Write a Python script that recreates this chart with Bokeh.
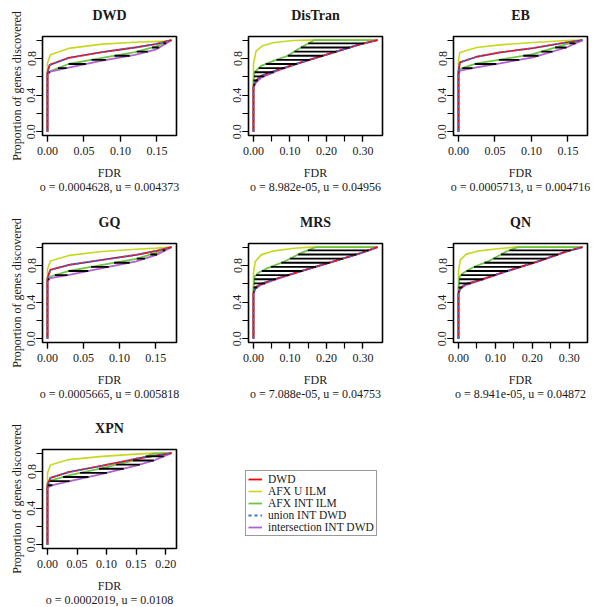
import numpy as np
from bokeh.plotting import figure
from bokeh.models import (Range1d, FixedTicker, Title, Legend, LegendItem,
                          PrintfTickFormatter)
from bokeh.layouts import column, row
from bokeh.embed import file_html
from bokeh.resources import INLINE

FONT = "Liberation Serif"

# ---------------- data (FDR, proportion of genes discovered) ----------------
panel_notes = {
    "DWD": "o = 0.0004628, u = 0.004373",
    "DisTran": "o = 8.982e-05, u = 0.04956",
    "EB": "o = 0.0005713, u = 0.004716",
    "GQ": "o = 0.0005665, u = 0.005818",
    "MRS": "o = 7.088e-05, u = 0.04753",
    "QN": "o = 8.941e-05, u = 0.04872",
    "XPN": "o = 0.0002019, u = 0.0108",
}
panel_xmax = {"DWD": 0.17, "DisTran": 0.34, "EB": 0.17, "GQ": 0.172,
              "MRS": 0.34, "QN": 0.336, "XPN": 0.21}

dwd_curves = {
    "afx_u":   ([0, 0, 0.004, 0.029, 0.075, 0.12, 0.16, 0.17],
                [0, 0.75, 0.84, 0.91, 0.957, 0.978, 0.99, 1.0]),
    "dwd":     ([0, 0, 0.003, 0.029, 0.075, 0.12, 0.148, 0.17],
                [0, 0.65, 0.73, 0.806, 0.87, 0.92, 0.957, 1.0]),
    "afx_int": ([0, 0, 0.004, 0.029, 0.075, 0.12, 0.148, 0.17],
                [0, 0.64, 0.663, 0.74, 0.806, 0.87, 0.93, 1.0]),
    "inter":   ([0, 0, 0.004, 0.029, 0.075, 0.12, 0.148, 0.17],
                [0, 0.63, 0.656, 0.70, 0.778, 0.84, 0.896, 1.0]),
}
distran_curves = {
    "afx_u":   ([0, 0, 0.007, 0.025, 0.057, 0.11, 0.157, 0.34],
                [0, 0.74, 0.88, 0.94, 0.975, 0.996, 1.0, 1.0]),
    "afx_int": ([0, 0, 0.003, 0.021, 0.057, 0.094, 0.13, 0.166, 0.34],
                [0, 0.56, 0.65, 0.72, 0.776, 0.83, 0.92, 1.0, 1.0]),
    "dwd":     ([0, 0, 0.007, 0.021, 0.066, 0.13, 0.22, 0.294, 0.34],
                [0, 0.5, 0.56, 0.61, 0.675, 0.758, 0.866, 0.957, 1.0]),
    "inter":   ([0, 0, 0.007, 0.021, 0.066, 0.13, 0.22, 0.294, 0.34],
                [0, 0.48, 0.54, 0.59, 0.668, 0.755, 0.866, 0.957, 1.0]),
}
eb_curves = {
    "afx_u":   ([0, 0, 0.002, 0.025, 0.057, 0.102, 0.148, 0.17],
                [0, 0.78, 0.866, 0.92, 0.949, 0.975, 0.996, 1.0]),
    "dwd":     ([0, 0, 0.002, 0.025, 0.057, 0.102, 0.148, 0.17],
                [0, 0.66, 0.758, 0.819, 0.866, 0.913, 0.975, 1.0]),
    "afx_int": ([0, 0, 0.002, 0.025, 0.057, 0.102, 0.148, 0.17],
                [0, 0.64, 0.686, 0.747, 0.787, 0.848, 0.957, 1.0]),
    "inter":   ([0, 0, 0.002, 0.025, 0.057, 0.102, 0.148, 0.17],
                [0, 0.63, 0.668, 0.704, 0.747, 0.812, 0.92, 1.0]),
}
gq_curves = {
    "afx_u":   ([0, 0, 0.004, 0.03, 0.076, 0.123, 0.151, 0.172],
                [0, 0.76, 0.85, 0.91, 0.953, 0.978, 0.99, 1.0]),
    "dwd":     ([0, 0, 0.004, 0.03, 0.076, 0.123, 0.151, 0.172],
                [0, 0.66, 0.753, 0.807, 0.862, 0.916, 0.96, 1.0]),
    "afx_int": ([0, 0, 0.004, 0.03, 0.076, 0.123, 0.151, 0.172],
                [0, 0.64, 0.68, 0.742, 0.807, 0.873, 0.94, 1.0]),
    "inter":   ([0, 0, 0.004, 0.03, 0.076, 0.123, 0.151, 0.172],
                [0, 0.63, 0.662, 0.698, 0.771, 0.844, 0.916, 1.0]),
}
mrs_curves = {
    "afx_u":   ([0, 0, 0.005, 0.021, 0.057, 0.112, 0.157, 0.34],
                [0, 0.72, 0.844, 0.916, 0.96, 0.989, 1.0, 1.0]),
    "afx_int": ([0, 0, 0.003, 0.016, 0.039, 0.085, 0.13, 0.171, 0.34],
                [0, 0.55, 0.68, 0.727, 0.771, 0.844, 0.935, 1.0, 1.0]),
    "dwd":     ([0, 0, 0.005, 0.021, 0.057, 0.13, 0.22, 0.294, 0.34],
                [0, 0.5, 0.56, 0.60, 0.65, 0.738, 0.846, 0.935, 1.0]),
    "inter":   ([0, 0, 0.005, 0.021, 0.057, 0.13, 0.22, 0.294, 0.34],
                [0, 0.49, 0.545, 0.589, 0.644, 0.735, 0.844, 0.935, 1.0]),
}
qn_curves = {
    "afx_u":   ([0, 0, 0.005, 0.021, 0.057, 0.112, 0.152, 0.336],
                [0, 0.74, 0.862, 0.924, 0.96, 0.985, 1.0, 1.0]),
    "afx_int": ([0, 0, 0.003, 0.016, 0.044, 0.084, 0.13, 0.161, 0.336],
                [0, 0.56, 0.68, 0.727, 0.789, 0.851, 0.953, 1.0, 1.0]),
    "dwd":     ([0, 0, 0.005, 0.021, 0.057, 0.13, 0.22, 0.293, 0.336],
                [0, 0.5, 0.555, 0.60, 0.64, 0.738, 0.851, 0.953, 1.0]),
    "inter":   ([0, 0, 0.005, 0.021, 0.057, 0.13, 0.22, 0.293, 0.336],
                [0, 0.49, 0.545, 0.589, 0.636, 0.735, 0.851, 0.953, 1.0]),
}
xpn_curves = {
    "afx_u":   ([0, 0, 0.005, 0.036, 0.093, 0.15, 0.18, 0.21],
                [0, 0.78, 0.87, 0.93, 0.965, 0.99, 1.0, 1.0]),
    "dwd":     ([0, 0, 0.005, 0.036, 0.093, 0.15, 0.18, 0.21],
                [0, 0.66, 0.73, 0.794, 0.863, 0.939, 0.97, 1.0]),
    "afx_int": ([0, 0, 0.005, 0.036, 0.093, 0.15, 0.18, 0.21],
                [0, 0.64, 0.70, 0.758, 0.838, 0.928, 0.995, 1.0]),
    "inter":   ([0, 0, 0.005, 0.036, 0.093, 0.15, 0.18, 0.21],
                [0, 0.62, 0.645, 0.693, 0.773, 0.863, 0.92, 1.0]),
}
panel_curves = {"DWD": dwd_curves, "DisTran": distran_curves, "EB": eb_curves,
                "GQ": gq_curves, "MRS": mrs_curves, "QN": qn_curves,
                "XPN": xpn_curves}

# x tick labels (major) and unlabeled ticks (minor) per panel
xticks_small = [0.0, 0.05, 0.10, 0.15]
xticks_mid = [0.0, 0.05, 0.10, 0.15, 0.20]
xticks_wide_major = [0.0, 0.10, 0.20, 0.30]
xticks_wide_minor = [0.0, 0.05, 0.10, 0.15, 0.20, 0.25, 0.30]
panel_xticks = {
    "DWD": (xticks_small, xticks_small),
    "DisTran": (xticks_wide_major, xticks_wide_minor),
    "EB": (xticks_small, xticks_small),
    "GQ": (xticks_small, xticks_small),
    "MRS": (xticks_wide_major, xticks_wide_minor),
    "QN": (xticks_wide_major, xticks_wide_minor),
    "XPN": (xticks_mid, xticks_mid),
}
yticks_major = [0.0, 0.4, 0.8]
yticks_minor = [0.0, 0.2, 0.4, 0.6, 0.8, 1.0]

legend_labels = ["DWD", "AFX U ILM", "AFX INT ILM", "union INT DWD",
                 "intersection INT DWD"]

# ---------------- styles / geometry ----------------
COL = {"dwd": "#FF0000", "afx_u": "#C8D81E", "afx_int": "#6CC644",
       "union": "#3B6FE0", "inter": "#B060D0"}
TXT = "#1a1a1a"

col_w = [205, 205, 190]
col_left = [42, 43, 43]
row_h = [207, 206, 194]
row_top = [36, 36, 36]
FRAME_W = 134
FRAME_H = 99


def add_curves(p, curves):
    ux, uy = curves["afx_u"]
    gx, gy = curves["afx_int"]
    dx, dy = curves["dwd"]
    ix, iy = curves["inter"]
    r_u = p.line(ux, uy, line_color=COL["afx_u"], line_width=1.6)
    r_g = p.line(gx, gy, line_color=COL["afx_int"], line_width=1.8)
    r_i = p.line(ix, iy, line_color=COL["inter"], line_width=1.8)
    r_d = p.line(dx, dy, line_color=COL["dwd"], line_width=1.8)
    r_n = p.line(dx, dy, line_color=COL["union"], line_width=1.8,
                 line_dash="3 3")
    return [r_d, r_u, r_g, r_n, r_i]


def make_panel(name, ci, ri):
    curves = panel_curves[name]
    m = panel_xmax[name]
    w, h = col_w[ci], row_h[ri]
    left, top = col_left[ci], row_top[ri]
    p = figure(width=w, height=h, output_backend="svg", toolbar_location=None,
               x_range=Range1d(-0.04 * m, 1.04 * m),
               y_range=Range1d(-0.04, 1.04),
               min_border_left=left, min_border_right=w - left - FRAME_W,
               min_border_top=top, min_border_bottom=h - top - FRAME_H)
    p.xgrid.visible = False
    p.ygrid.visible = False
    p.outline_line_color = "black"
    p.outline_line_width = 1.6
    p.background_fill_color = "white"
    p.border_fill_color = "white"

    # empty gap between the frame and the panel title
    p.add_layout(Title(text=" ", text_font_size="7px", standoff=0), "above")
    p.title.text = name
    p.title.align = "center"
    p.title.text_font = FONT
    p.title.text_font_size = "14px"
    p.title.text_font_style = "bold"
    p.title.text_color = TXT

    xa, xm = panel_xticks[name]
    p.xaxis.ticker = FixedTicker(ticks=xa, minor_ticks=xm)
    p.xaxis.formatter = PrintfTickFormatter(format="%.2f")
    p.yaxis.ticker = FixedTicker(ticks=yticks_major, minor_ticks=yticks_minor)
    p.yaxis.formatter = PrintfTickFormatter(format="%.1f")
    p.yaxis.major_label_orientation = "vertical"
    for ax in (p.xaxis[0], p.yaxis[0]):
        ax.axis_line_color = None
        ax.major_tick_in = 0
        ax.major_tick_out = 6
        ax.minor_tick_in = 0
        ax.minor_tick_out = 6
        ax.major_tick_line_color = "black"
        ax.minor_tick_line_color = "black"
        ax.major_tick_line_width = 1.2
        ax.minor_tick_line_width = 1.2
        ax.major_label_text_font = FONT
        ax.major_label_text_font_size = "12px"
        ax.major_label_text_color = TXT
        ax.axis_label_text_font = FONT
        ax.axis_label_text_font_size = "12px"
        ax.axis_label_text_font_style = "normal"
        ax.axis_label_text_color = TXT
    p.xaxis.major_label_standoff = 5
    p.yaxis.major_label_standoff = 1
    p.xaxis.axis_label = "FDR"
    p.xaxis.axis_label_standoff = 8
    if ci == 0:
        p.yaxis.axis_label = "Proportion of genes discovered"
        p.yaxis.axis_label_standoff = 1
    note = Title(text=panel_notes[name], align="center", text_font=FONT,
                 text_font_size="12px", text_font_style="normal",
                 text_color=TXT, standoff=-9)
    p.add_layout(note, "below")

    add_curves(p, curves)

    # horizontal shading lines between AFX INT ILM and intersection curve
    gx, gy = curves["afx_int"]
    ix, iy = curves["inter"]
    levels = np.arange(0.515, 0.999, 0.045)
    gyy, gxx = list(gy), list(gx)
    if gyy[-1] == gyy[-2]:
        gyy, gxx = gyy[:-1], gxx[:-1]
    xg = np.interp(levels, gyy, gxx)
    xl = np.interp(levels, iy, ix)
    keep = xl > xg
    p.segment(x0=xg[keep], y0=levels[keep], x1=xl[keep], y1=levels[keep],
              line_color="black", line_width=1.8)
    return p


order = [["DWD", "DisTran", "EB"], ["GQ", "MRS", "QN"], ["XPN"]]
rows = []
for ri, names in enumerate(order):
    rows.append([make_panel(n, ci, ri) for ci, n in enumerate(names)])

# legend cell: same top/bottom borders as the neighbouring panel; the proxy
# curves lie outside the visible range so only their legend samples show
lw, lh = col_w[1], row_h[2]
LG_LEFT, LG_RIGHT = 30, 10
lg = figure(width=lw, height=lh, output_backend="svg",
            toolbar_location=None, x_axis_type=None, y_axis_type=None,
            x_range=Range1d(5, 6), y_range=Range1d(5, 6),
            min_border_left=LG_LEFT, min_border_right=LG_RIGHT,
            min_border_top=row_top[2],
            min_border_bottom=lh - row_top[2] - FRAME_H)
lg.outline_line_color = None
lg.xgrid.visible = False
lg.ygrid.visible = False
lg.background_fill_color = "white"
lg.border_fill_color = "white"
rends = add_curves(lg, xpn_curves)
legend = Legend(items=[LegendItem(label=l, renderers=[r])
                       for l, r in zip(legend_labels, rends)],
                location=(10, 12), margin=0, padding=2, spacing=0,
                glyph_width=14, glyph_height=10, label_height=10,
                label_standoff=6, label_text_font=FONT,
                label_text_font_size="11.5px", label_text_color=TXT,
                border_line_color="#333333", border_line_width=1.2,
                background_fill_color="white", background_fill_alpha=1.0)
lg.add_layout(legend, "center")
rows[2].append(lg)

layout = column(*[row(*r) for r in rows])
open("out.html", "w").write(file_html(layout, INLINE))
